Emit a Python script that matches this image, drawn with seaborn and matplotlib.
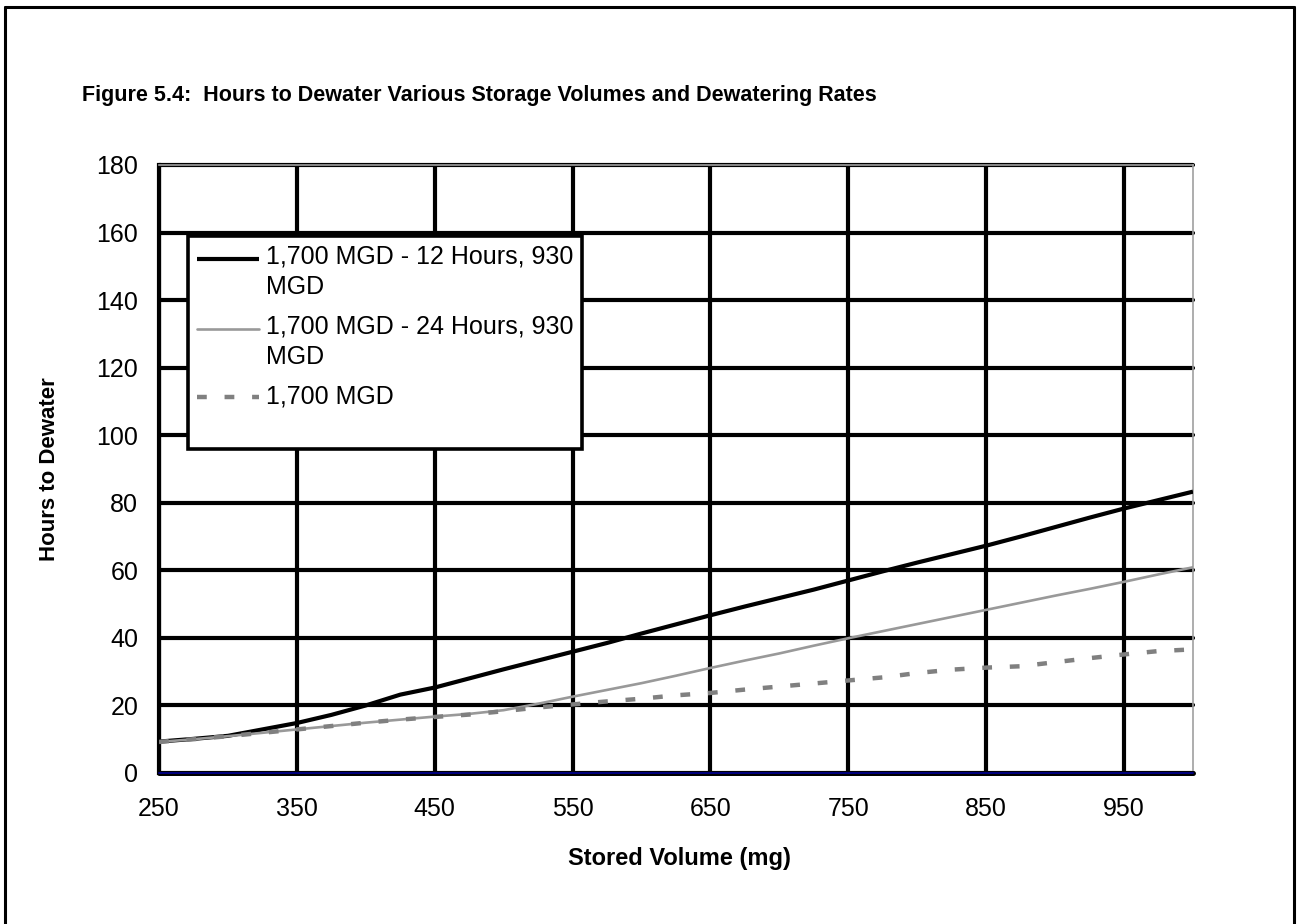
import matplotlib
matplotlib.use("Agg")
import matplotlib.pyplot as plt
from matplotlib.legend_handler import HandlerLine2D
from matplotlib.lines import Line2D
import numpy as np
import pandas as pd
import seaborn as sns

# Stored volume (mg) and hours needed to dewater it at each pumping scheme
volume = [250, 275, 300, 325, 350, 375, 400, 425, 450, 475, 500, 525, 550, 575, 600, 625,
          650, 675, 700, 725, 750, 775, 800, 825, 850, 875, 900, 925, 950, 975, 1000]
hours_12h = [9.3, 10.1, 11.0, 12.9, 14.8, 17.2, 20.0, 23.2, 25.3, 28.0, 30.7, 33.3, 35.9,
             38.5, 41.3, 44.0, 46.7, 49.3, 51.8, 54.3, 57.0, 59.7, 62.3, 64.8, 67.3, 70.0,
             72.8, 75.6, 78.3, 80.8, 83.3]
hours_24h = [9.2, 10.0, 10.9, 11.9, 12.9, 13.9, 14.9, 15.8, 16.7, 17.5, 18.6, 20.5, 22.6,
             24.6, 26.6, 28.8, 31.1, 33.3, 35.4, 37.7, 39.9, 42.0, 44.1, 46.2, 48.3, 50.4,
             52.5, 54.5, 56.6, 58.8, 60.9]
hours_1700 = [9.2, 10.0, 10.9, 11.9, 12.9, 13.9, 14.9, 15.8, 16.6, 17.3, 18.3, 19.4, 20.3,
              21.2, 22.0, 23.0, 23.7, 24.7, 25.6, 26.5, 27.4, 28.3, 29.6, 30.6, 31.2, 31.6,
              32.8, 34.0, 35.1, 36.1, 36.6]

series_labels = ["1,700 MGD - 12 Hours, 930\nMGD", "1,700 MGD - 24 Hours, 930\nMGD", "1,700 MGD"]
x_ticks = [250, 350, 450, 550, 650, 750, 850, 950]
y_ticks = [0, 20, 40, 60, 80, 100, 120, 140, 160, 180]

title = "Figure 5.4:  Hours to Dewater Various Storage Volumes and Dewatering Rates"
x_title = "Stored Volume (mg)"
y_title = "Hours to Dewater"

sns.set_style("white")
plt.rcParams["font.family"] = ["Liberation Sans", "DejaVu Sans"]
plt.rcParams["text.color"] = "black"
plt.rcParams["axes.labelcolor"] = "black"

W, H = 1299, 924
fig = plt.figure(figsize=(W / 100, H / 100), dpi=100)
ax = fig.add_axes([159 / W, 1 - 773 / H, (1193 - 159) / W, (773 - 165) / H])

df = pd.DataFrame({"volume": volume, "h12": hours_12h, "h24": hours_24h, "h1700": hours_1700})

sns.lineplot(data=df, x="volume", y="h12", ax=ax, color="black", linewidth=3.0, zorder=5)
sns.lineplot(data=df, x="volume", y="h24", ax=ax, color="#999999", linewidth=1.9, zorder=5)
sns.lineplot(data=df, x="volume", y="h1700", ax=ax, color="#808080", linewidth=3.2, zorder=5)
lines = ax.get_lines()
lines[2].set_dashes((2.2, 4.0))
lines[2].set_dash_capstyle("butt")
lines[0].set_solid_capstyle("butt")

ax.set_xlim(250, 1000)
ax.set_ylim(0, 180)
ax.set_xticks(x_ticks)
ax.set_yticks(y_ticks)

# heavy black grid
ax.set_axisbelow(True)
ax.grid(True, color="black", linewidth=3.0)
for gl in ax.yaxis.get_gridlines():
    gl.set_clip_on(False)
ax.axhline(0, color="black", linewidth=3.6, zorder=6, clip_on=False)
ax.axhline(0, color="#000080", linewidth=1.4, zorder=7, clip_on=False)

for side in ["top", "right"]:
    ax.spines[side].set_color("#a0a0a0")
    ax.spines[side].set_linewidth(1.2)
ax.spines["left"].set_color("black")
ax.spines["left"].set_linewidth(3.0)
ax.spines["bottom"].set_visible(False)

ax.tick_params(axis="both", which="major", length=6.5, width=2.6, color="black",
               labelsize=18, labelcolor="black")
ax.tick_params(axis="x", pad=11)
ax.tick_params(axis="y", pad=8.5)

ax.set_xlabel(x_title, fontsize=17, fontweight="bold", va="center", color="black")
ax.set_ylabel(y_title, fontsize=16, fontweight="bold", va="center", color="black")
ax.xaxis.set_label_coords((679 - 159) / 1034, (773 - 858) / 608)
ax.yaxis.set_label_coords((50 - 159) / 1034, 0.5)

fig.text(82 / W, 1 - 95 / H, title, fontsize=15.5, fontweight="bold", ha="left",
         va="center", color="black")


class TopAlignedLine(HandlerLine2D):
    """Place the legend sample level with the first text line."""

    def __init__(self, shift=0.0, **kw):
        super().__init__(**kw)
        self.shift = shift

    def create_artists(self, legend, orig_handle, xdescent, ydescent, width, height,
                       fontsize, trans):
        return super().create_artists(legend, orig_handle, xdescent,
                                      ydescent - 2 * self.shift, width, height,
                                      fontsize, trans)


blank = Line2D([], [], color="none")
handles = [lines[0], lines[1], lines[2], blank]
labels = series_labels + [" "]
shift = 10.8
leg = ax.legend(handles, labels, loc="upper left", bbox_to_anchor=(0.028, 0.883),
                borderaxespad=0, fontsize=18, frameon=True, fancybox=False,
                framealpha=1, edgecolor="black", handlelength=2.5, handleheight=0.3,
                handletextpad=0.28, labelspacing=0.65, borderpad=0.35,
                handler_map={lines[0]: TopAlignedLine(shift), lines[1]: TopAlignedLine(shift)})
leg.get_frame().set_linewidth(2.6)
leg.set_zorder(10)
for t in leg.get_texts()[:3]:
    t.set_linespacing(1.3)
    t.set_color("black")
leg.get_texts()[3].set_fontsize(4)

# page frame
for xs, ys in [((5 / W, 5 / W), (0, 1 - 7 / H)),
               ((5 / W, 1294 / W), (1 - 7 / H, 1 - 7 / H)),
               ((1294 / W, 1294 / W), (1 - 7 / H, 0))]:
    fig.add_artist(Line2D(xs, ys, color="black", linewidth=2.2, transform=fig.transFigure))

fig.savefig("out.png", dpi=100, facecolor="white")
